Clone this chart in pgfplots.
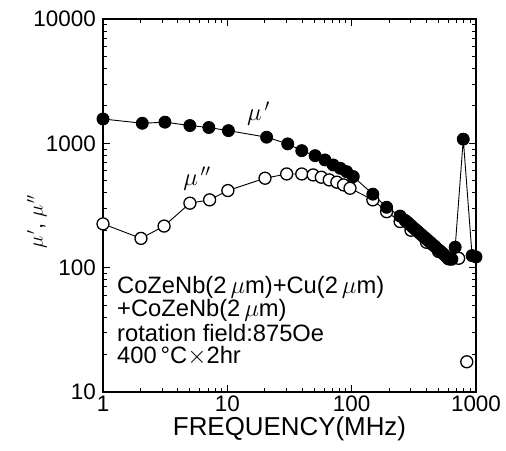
\documentclass[border=0pt]{standalone}
\usepackage{fontspec}
\setmainfont{Liberation Sans}
\usepackage{pgfplots}
\pgfplotsset{compat=1.18}
\begin{document}
\begin{tikzpicture}
\begin{axis}[
  xmode=log, ymode=log,
  scale only axis, width=373bp, height=373bp,
  xmin=1, xmax=1000, ymin=10, ymax=10000,
  xtick={1,10,100,1000}, xticklabels={1,10,100,1000},
  ytick={10,100,1000,10000}, yticklabels={10,100,1000,10000},
  minor xtick={2,3,4,5,6,7,8,9,20,30,40,50,60,70,80,90,200,300,400,500,600,700,800,900},
  minor ytick={20,30,40,50,60,70,80,90,200,300,400,500,600,700,800,900,2000,3000,4000,5000,6000,7000,8000,9000},
  tick align=inside,
  major tick length=7bp, minor tick length=4bp,
  axis line style={line width=1.6bp},
  every tick/.style={line width=1bp, black},
  tick label style={font=\fontsize{22.5}{22.5}\selectfont},
  xticklabel style={inner sep=1bp, yshift=-3bp},
  yticklabel style={inner sep=1bp, xshift=-6bp},
  xlabel={FREQUENCY(MHz)},
  xlabel style={font=\fontsize{26}{26}\selectfont, at={(axis description cs:0.5,0)}, anchor=center, yshift=-37bp},
  ylabel={$\mu^{\,\prime}$, $\mu^{\,\prime\prime}$},
  ylabel style={font=\fontsize{22}{22}\selectfont, at={(axis description cs:-0.177,0.456)}, anchor=center, rotate=0},
  clip=false,
]
% mu'' (open circles)
\addplot[black, line width=0.9bp, mark=*, mark size=6bp, mark options={fill=white, line width=1.3bp}] coordinates {
(1,225) (2.02,172) (3.1,216) (5.0,330) (7.2,351) (10.1,417) (20.1,524) (30,567)
(39.7,567) (49,557) (57,534) (66,508) (76,487) (86,463) (97,435) (148,351)
(191,282) (245,235) (300,200) (400,160) (500,135) (600,118) (725,119)
};
\addplot[only marks, mark=*, mark size=6bp, mark options={fill=white, draw=black, line width=1.3bp}] coordinates {(843,17.5)};
% mu' (filled circles)
\addplot[black, line width=0.9bp, mark=*, mark size=6bp, mark options={fill=black}] coordinates {
(1,1570) (2.07,1450) (3.15,1480) (5.0,1390) (7.1,1340) (10.2,1265) (20.7,1120)
(30.6,990) (39.7,873) (50.8,796) (61,735) (71,670) (81,630) (91,592) (103,540)
(148,390) (191,306) (245,260)
(269,240) (279,233) (288,226) (299,219) (309,212) (320,206) (331,200) (343,194)
(355,188) (367,183) (380,177) (394,172) (407,167) (422,162) (437,157) (452,152)
(468,148) (484,143) (501,139) (519,135) (537,131) (556,127) (575,123) (596,120)
(617,117) (640,117) (680,146) (790,1080) (930,125) (1000,122)
};
\node[font=\fontsize{25}{25}\selectfont] at (axis cs:17.8,1740) {$\mu^{\,\prime}$};
\node[font=\fontsize{25}{25}\selectfont] at (axis cs:5.7,520) {$\mu^{\,\prime\prime}$};
\begin{scope}[every node/.style={font=\fontsize{23.8}{23.8}\selectfont, anchor=base west, inner sep=0pt, text height=17bp, text depth=4bp}]
\node at (rel axis cs:0.0375,0.2654) {CoZeNb(2\,$\mu$m)+Cu(2\,$\mu$m)};
\node at (rel axis cs:0.0375,0.2011) {+CoZeNb(2\,$\mu$m)};
\node at (rel axis cs:0.0375,0.1367) {rotation field:875Oe};
\node at (rel axis cs:0.0375,0.0751) {400\,°C$\times$2hr};
\end{scope}
\end{axis}
\pgfresetboundingbox
\path ([xshift=-103bp,yshift=-59bp]current axis.south west) rectangle ([xshift=30bp,yshift=19bp]current axis.north east);
\end{tikzpicture}
\end{document}
